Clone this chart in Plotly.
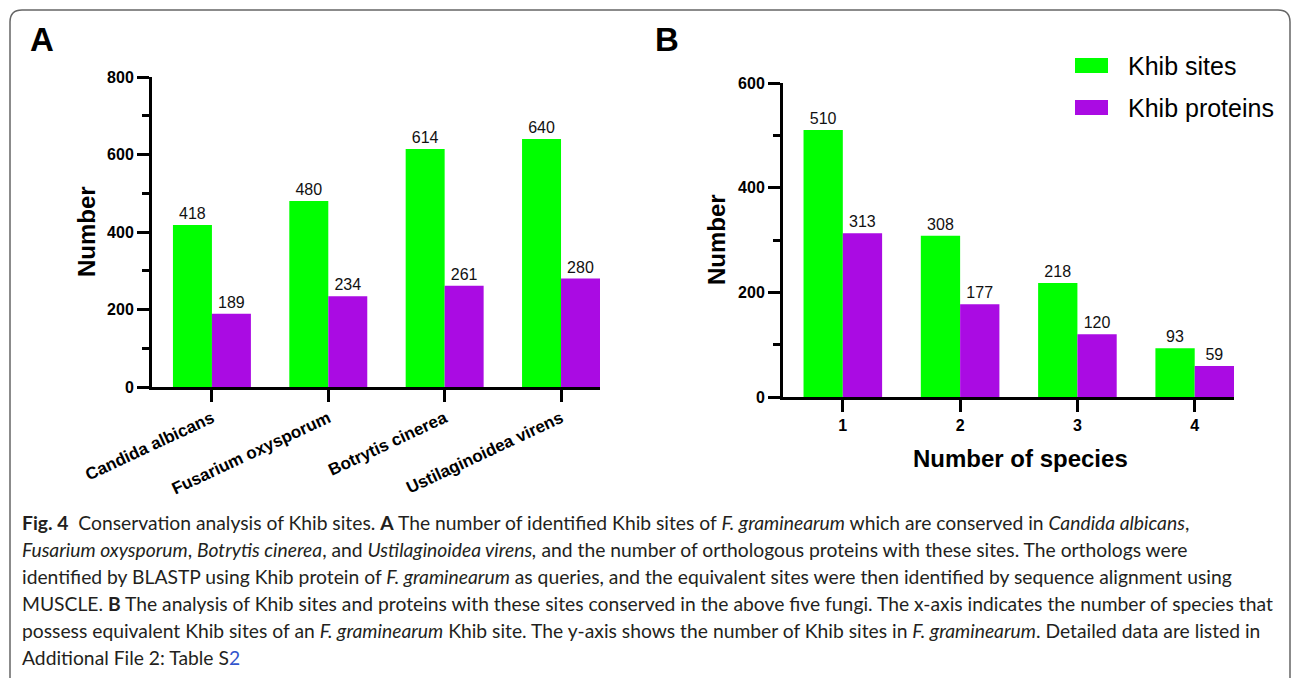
import plotly.graph_objects as go

W, H = 1293, 678

# ---- data ----
species = ["Candida albicans", "Fusarium oxysporum", "Botrytis cinerea", "Ustilaginoidea virens"]
a_sites = [418, 480, 614, 640]
a_proteins = [189, 234, 261, 280]

n_species = ["1", "2", "3", "4"]
b_sites = [510, 308, 218, 93]
b_proteins = [313, 177, 120, 59]

series_names = ["Khib sites", "Khib proteins"]
colors = ["#00FF00", "#AA0BE3"]

caption_lines = [
    "<b>Fig. 4</b>  Conservation analysis of Khib sites. <b>A</b> The number of identified Khib sites of <i>F. graminearum</i> which are conserved in <i>Candida albicans</i>,",
    "<i>Fusarium oxysporum</i>, <i>Botrytis cinerea</i>, and <i>Ustilaginoidea virens,</i> and the number of orthologous proteins with these sites. The orthologs were",
    "identified by BLASTP using Khib protein of <i>F. graminearum</i> as queries, and the equivalent sites were then identified by sequence alignment using",
    "MUSCLE. <b>B</b> The analysis of Khib sites and proteins with these sites conserved in the above five fungi. The x-axis indicates the number of species that",
    "possess equivalent Khib sites of an <i>F. graminearum</i> Khib site. The y-axis shows the number of Khib sites in <i>F. graminearum</i>. Detailed data are listed in",
    "Additional File 2: Table S<span style='color:#3355cc'>2</span>",
]

FONT = "Liberation Sans, Arial, sans-serif"
CAPFONT = "Lato, Open Sans, sans-serif"


def px(x):
    return x / W


def py(y):
    return 1 - y / H


fig = go.Figure()

for vals, name, col in zip([a_sites, a_proteins], series_names, colors):
    fig.add_trace(go.Bar(x=species, y=vals, name=name, marker=dict(color=col, line=dict(width=0)),
                         text=vals, textposition="outside", cliponaxis=False,
                         textfont=dict(family=FONT, size=16, color="#111"),
                         xaxis="x", yaxis="y", showlegend=False))
for vals, name, col in zip([b_sites, b_proteins], series_names, colors):
    fig.add_trace(go.Bar(x=n_species, y=vals, name=name, marker=dict(color=col, line=dict(width=0)),
                         text=vals, textposition="outside", cliponaxis=False,
                         textfont=dict(family=FONT, size=16, color="#111"),
                         xaxis="x2", yaxis="y2", showlegend=False))

axis_common = dict(showline=True, linecolor="black", linewidth=3, ticks="outside",
                   tickwidth=3, tickcolor="black", showgrid=False, zeroline=False,
                   automargin=False,
                   tickfont=dict(family=FONT, size=16, color="black", weight="bold"))

xa_common = dict(axis_common)
xa_common["tickfont"] = dict(family=FONT, size=17, color="black", weight="bold")

fig.update_layout(
    template="none",
    width=W, height=H, margin=dict(l=0, r=0, t=0, b=0, pad=0, autoexpand=False),
    paper_bgcolor="white", plot_bgcolor="white",
    barmode="group", bargap=0.33, bargroupgap=0,
    xaxis=dict(domain=[px(152), px(600)], anchor="y", type="category",
               range=[-0.515, 3.335], ticklen=12, tickangle=-25, **xa_common),
    yaxis=dict(domain=[py(387), py(77)], anchor="x", range=[0, 800], dtick=200,
               ticklen=12, minor=dict(dtick=100, ticklen=7, tickwidth=3, tickcolor="black", ticks="outside"),
               **axis_common),
    xaxis2=dict(domain=[px(783), px(1234)], anchor="y2", type="category",
                range=[-0.51, 3.335], ticklen=12, **axis_common),
    yaxis2=dict(domain=[py(397), py(83)], anchor="x2", range=[0, 600], dtick=200,
                ticklen=12, minor=dict(dtick=100, ticklen=7, tickwidth=3, tickcolor="black", ticks="outside"),
                **axis_common),
)

ann = []
# panel letters
ann.append(dict(x=px(42), y=py(40), text="<b>A</b>", font=dict(family=FONT, size=33, color="black")))
ann.append(dict(x=px(667), y=py(40), text="<b>B</b>", font=dict(family=FONT, size=33, color="black")))
# axis titles
ann.append(dict(x=px(87), y=py(232), text="<b>Number</b>", textangle=-90,
                font=dict(family=FONT, size=24, color="black")))
ann.append(dict(x=px(716), y=py(240), text="<b>Number</b>", textangle=-90,
                font=dict(family=FONT, size=24, color="black")))
ann.append(dict(x=px(1020), y=py(458), text="<b>Number of species</b>",
                font=dict(family=FONT, size=24, color="black")))
# legend
shapes = []
for i, (name, col) in enumerate(zip(series_names, colors)):
    y0 = 58 + i * 42
    shapes.append(dict(type="rect", xref="paper", yref="paper", x0=px(1075), x1=px(1108),
                       y0=py(y0), y1=py(y0 + 15), fillcolor=col, line=dict(width=0)))
    ann.append(dict(x=px(1126), y=py(y0 + 8), xanchor="left", text=name,
                    font=dict(family=FONT, size=25, color="black")))
# caption
for i, line in enumerate(caption_lines):
    ann.append(dict(x=px(20), y=py(522 + 27 * i), xanchor="left", text=line,
                    font=dict(family=CAPFONT, size=19.3, color="#231f20")))

for a in ann:
    a.setdefault("xanchor", "center")
    a.update(xref="paper", yref="paper", yanchor="middle", showarrow=False)
fig.update_layout(annotations=ann)

# outer rounded frame
r = 12
pts = f"M {px(10)},{py(678)} L {px(10)},{py(10 + r)} Q {px(10)},{py(10)} {px(10 + r)},{py(10)} " \
      f"L {px(1290 - r)},{py(10)} Q {px(1290)},{py(10)} {px(1290)},{py(10 + r)} L {px(1290)},{py(678)}"
shapes.append(dict(type="path", xref="paper", yref="paper", path=pts,
                   line=dict(color="#666", width=1.5)))
fig.update_layout(shapes=shapes)

fig.write_html("out.html")
